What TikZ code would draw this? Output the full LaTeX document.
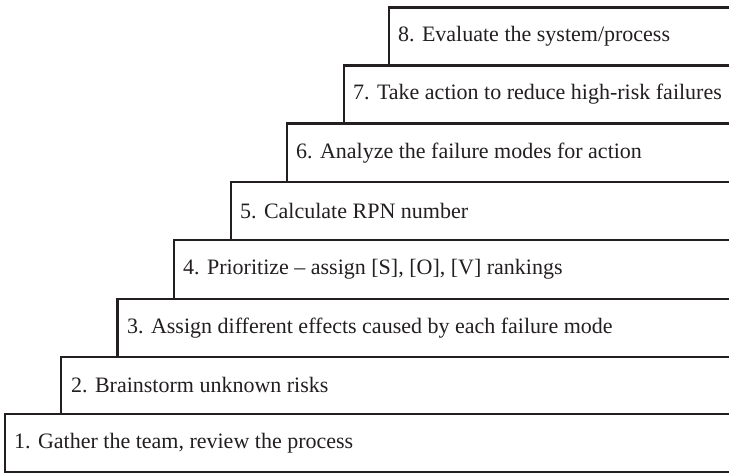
\documentclass[tikz,border=0pt]{standalone}
\usepackage{fontspec}
\setmainfont{Liberation Serif}
\definecolor{ink}{HTML}{231F20}
\begin{document}
\begin{tikzpicture}[x=1pt,y=-1pt,
  stepbox/.style={draw=ink,line width=2.8pt,fill=white},
  steptext/.style={anchor=west,inner sep=0pt,text=ink,font=\fontsize{22}{26}\selectfont}]
\useasboundingbox (0,0) rectangle (729,475);
\clip (0,0) rectangle (729,475);
\draw[stepbox] (5,414) rectangle (745,472);
\draw[stepbox] (61,357) rectangle (745,414);
\draw[stepbox] (117.5,299) rectangle (745,357);
\draw[stepbox] (174,240) rectangle (745,299);
\draw[stepbox] (231,182) rectangle (745,240);
\draw[stepbox] (287,123.5) rectangle (745,182);
\draw[stepbox] (344,65.5) rectangle (745,123.5);
\draw[stepbox] (389,7.5) rectangle (745,65.5);
\node[steptext] (s1) at (14,443) {1. Gather the team, review the process};
\node[steptext] (s2) at (71,385.5) {2. Brainstorm unknown risks};
\node[steptext] (s3) at (127,328) {3. Assign different effects caused by each failure mode};
\node[steptext] (s4) at (183,269.5) {4. Prioritize – assign [S], [O], [V] rankings};
\node[steptext] (s5) at (240,211) {5. Calculate RPN number};
\node[steptext] (s6) at (296,153) {6. Analyze the failure modes for action};
\node[steptext] (s7) at (353,94.5) {7. Take action to reduce high-risk failures};
\node[steptext] (s8) at (398,36.5) {8. Evaluate the system/process};
\end{tikzpicture}
\end{document}
